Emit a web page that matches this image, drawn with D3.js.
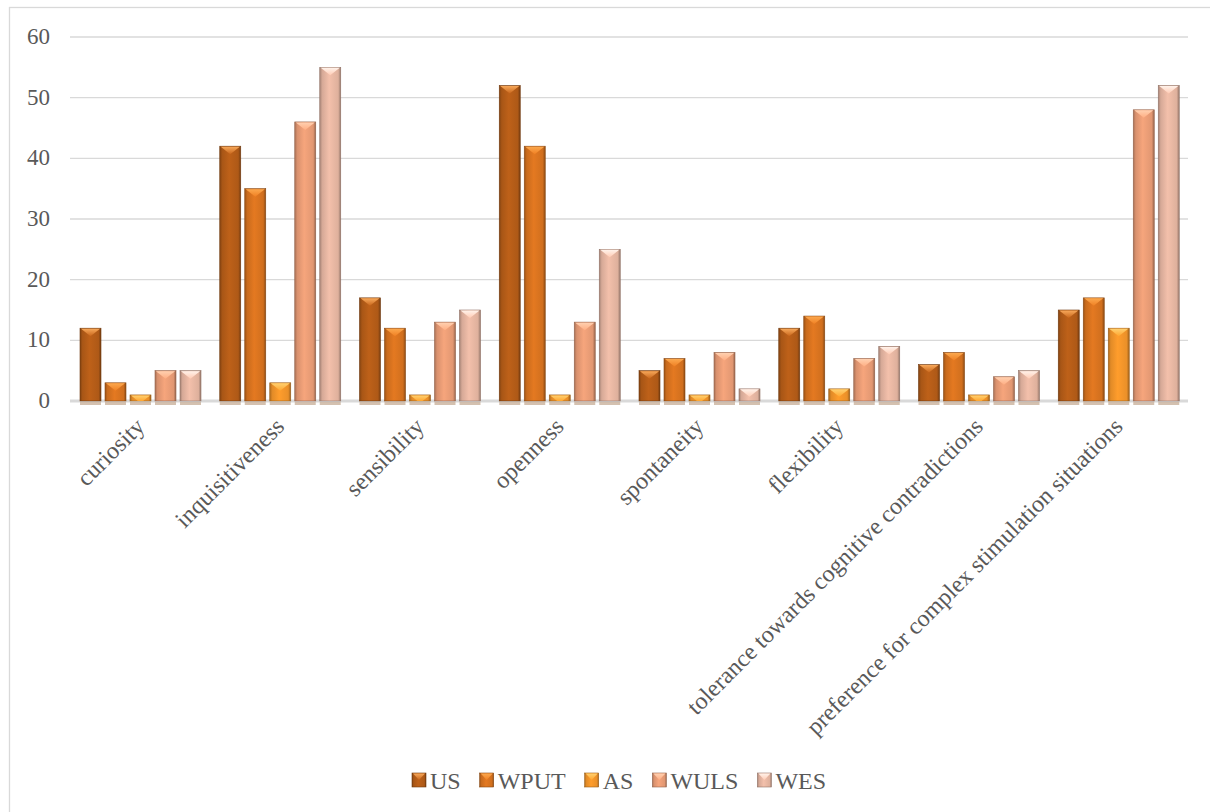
<!DOCTYPE html>
<html lang="en">
<head>
<meta charset="utf-8">
<script src="https://d3js.org/d3.v7.min.js"></script>
<style>
  body { margin: 0; background: #fff; }
  svg { font-family: "Liberation Serif", "Times New Roman", serif; }
</style>
</head>
<body>
<div id="chart"></div>
<script>
// categories and series
var categories = ["curiosity", "inquisitiveness", "sensibility", "openness",
  "spontaneity", "flexibility", "tolerance towards cognitive contradictions",
  "preference for complex stimulation situations"];
var seriesNames = ["US", "WPUT", "AS", "WULS", "WES"];
var US   = [12, 42, 17, 52, 5, 12, 6, 15];
var WPUT = [3, 35, 12, 42, 7, 14, 8, 17];
var AS   = [1, 3, 1, 1, 1, 2, 1, 12];
var WULS = [5, 46, 13, 13, 8, 7, 4, 48];
var WES  = [5, 55, 15, 25, 2, 9, 5, 52];
var yTicks = [0, 10, 20, 30, 40, 50, 60];

var seriesValues = [US, WPUT, AS, WULS, WES];
var colors = ["#b45c18", "#d8731f", "#f3952a", "#e99c76", "#e6b6a2"];
var topColors = ["#f7a85a", "#fba84e", "#ffd070", "#ffd0b0", "#fff2ea"];

var W = 1210, H = 812;
var plotLeft = 70, plotRight = 1188, plotTop = 37, plotBottom = 401;

var svg = d3.select("#chart").append("svg")
  .attr("width", W).attr("height", H);

// outer frame
svg.append("rect")
  .attr("x", 9.5).attr("y", 7.5)
  .attr("width", W + 10).attr("height", H + 10)
  .attr("fill", "none").attr("stroke", "#d9d9d9").attr("stroke-width", 1.3);

var x0 = d3.scaleBand().domain(categories).range([plotLeft, plotRight]);
var x1 = d3.scaleBand().domain(seriesNames)
  .range([10, 131]).paddingInner(0.16).paddingOuter(0);
var y = d3.scaleLinear().domain([0, 60]).range([plotBottom, plotTop]);

// gradients per series
var defs = svg.append("defs");
seriesNames.forEach(function(s, i) {
  var c = d3.color(colors[i]);
  var g = defs.append("linearGradient").attr("id", "body" + i)
    .attr("x1", "0").attr("x2", "1").attr("y1", "0").attr("y2", "0");
  g.append("stop").attr("offset", "0").attr("stop-color", c.darker(0.9));
  g.append("stop").attr("offset", "0.12").attr("stop-color", c.darker(0.2));
  g.append("stop").attr("offset", "0.45").attr("stop-color", c.brighter(0.15));
  g.append("stop").attr("offset", "0.88").attr("stop-color", c.darker(0.1));
  g.append("stop").attr("offset", "1").attr("stop-color", c.darker(1.2));
  var t = defs.append("linearGradient").attr("id", "top" + i)
    .attr("x1", "0").attr("x2", "0").attr("y1", "0").attr("y2", "1");
  t.append("stop").attr("offset", "0").attr("stop-color", topColors[i]);
  t.append("stop").attr("offset", "1").attr("stop-color", c.brighter(0.3));
});

// gridlines
svg.append("g").selectAll("line").data(yTicks).enter().append("line")
  .attr("x1", plotLeft).attr("x2", plotRight)
  .attr("y1", function(d) { return y(d); })
  .attr("y2", function(d) { return y(d); })
  .attr("stroke", "#d9d9d9").attr("stroke-width", function(d) { return d === 0 ? 3 : 1.3; });

// y labels
svg.append("g").selectAll("text").data(yTicks).enter().append("text")
  .attr("x", 50).attr("y", function(d) { return y(d) + 7; })
  .attr("text-anchor", "end").attr("font-size", 23).attr("fill", "#595959")
  .text(function(d) { return d; });

// bars
var groups = svg.append("g").selectAll("g").data(categories).enter().append("g")
  .attr("transform", function(d) { return "translate(" + x0(d) + ",0)"; });

groups.each(function(cat, ci) {
  var g = d3.select(this);
  seriesNames.forEach(function(s, si) {
    var v = seriesValues[si][ci];
    var bx = x1(s), bw = x1.bandwidth();
    var by = y(v), bh = y(0) - y(v);
    // floor shadow
    g.append("rect").attr("x", bx).attr("y", plotBottom + 1).attr("width", bw).attr("height", 3)
      .attr("fill", "#c9b29c").attr("opacity", 0.8);
    g.append("rect").attr("x", bx).attr("y", by).attr("width", bw).attr("height", bh)
      .attr("fill", "url(#body" + si + ")")
      .attr("stroke", d3.color(colors[si]).darker(1.3)).attr("stroke-width", 0.6);
    // bevelled top
    var tb = Math.min(8, bh);
    var half = bw / 2;
    var k = tb / 8;
    g.append("path")
      .attr("d", "M" + (bx + 1) + "," + (by + 0.5) + "L" + (bx + bw - 1) + "," + (by + 0.5) +
        "L" + (bx + half + half * (1 - k)) + "," + (by + tb) +
        "L" + (bx + half - half * (1 - k)) + "," + (by + tb) + "Z")
      .attr("fill", "url(#top" + si + ")");
  });
});

// category labels
svg.append("g").selectAll("text").data(categories).enter().append("text")
  .attr("transform", function(d) {
    return "translate(" + (x0(d) + x0.bandwidth() / 2 + 6) + "," + 428 + ") rotate(-45)";
  })
  .attr("text-anchor", "end").attr("font-size", 24).attr("fill", "#595959")
  .text(function(d) { return d; });

// legend
var legend = svg.append("g");
var lx = 412, ly = 781;
seriesNames.forEach(function(s, i) {
  var item = legend.append("g").attr("transform", "translate(" + lx + "," + ly + ")");
  item.append("rect").attr("x", 0).attr("y", -8).attr("width", 14).attr("height", 14)
    .attr("fill", "url(#body" + i + ")")
    .attr("stroke", d3.color(colors[i]).darker(1.3)).attr("stroke-width", 0.6);
  item.append("path").attr("d", "M1,-7.5L13,-7.5L7,-1Z").attr("fill", "url(#top" + i + ")");
  var t = item.append("text").attr("x", 18).attr("y", 8)
    .attr("font-size", 24).attr("fill", "#595959").text(s);
  lx += 18 + t.node().getComputedTextLength() + 19;
});
</script>
</body>
</html>
